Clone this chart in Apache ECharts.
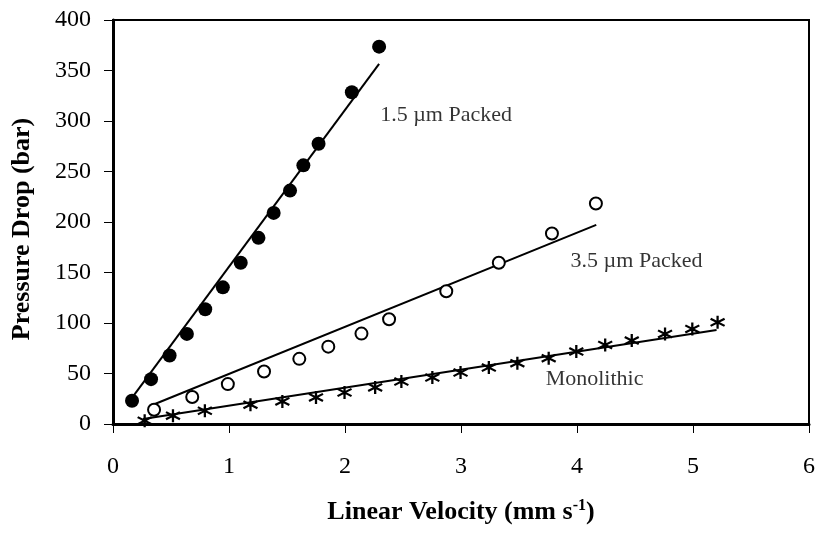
<!DOCTYPE html>
<html><head><meta charset="utf-8">
<script src="https://cdn.jsdelivr.net/npm/echarts@6/dist/echarts.min.js"></script>
<style>html,body{margin:0;padding:0;background:#fff}#c{width:819px;height:535px}</style>
</head><body><div id="c"></div>
<script>
// 1.5 um packed (filled circles)
const packed15 = [[0.164,23.0],[0.328,44.4],[0.488,67.8],[0.637,89.2],[0.795,113.6],[0.947,135.3],[1.101,159.6],[1.254,184.3],[1.385,209.0],[1.526,231.1],[1.641,256.1],[1.772,277.5],[2.059,328.5],[2.294,373.6]];
const fit15 = [[0.173,27.3],[2.294,356.5]];
// 3.5 um packed (open circles)
const packed35 = [[0.354,14.1],[0.683,26.7],[0.990,39.5],[1.302,52.0],[1.606,64.5],[1.856,76.6],[2.142,89.5],[2.380,103.7],[2.873,131.4],[3.326,159.6],[3.784,188.6],[4.163,218.3]];
const fit35 = [[0.345,19.1],[4.166,197.1]];
// Monolithic (asterisks)
const mono = [[0.273,3.3],[0.517,8.2],[0.792,13.1],[1.185,19.1],[1.460,22.3],[1.750,26.3],[1.996,31.2],[2.260,36.2],[2.486,42.1],[2.753,46.0],[2.996,51.0],[3.240,55.9],[3.486,60.2],[3.756,65.2],[3.994,71.7],[4.243,78.3],[4.472,82.6],[4.759,89.2],[4.994,94.1],[5.212,100.7]];
const fitMono = [[0.259,4.9],[5.203,93.1]];
// annotation labels
const labelText = ['1.5 \u00b5m Packed','3.5 \u00b5m Packed','Monolithic'];
const labelPos = [[2.303,305.8],[3.945,161.3],[3.730,44.2]];

const serif = '"Liberation Serif","DejaVu Serif",serif';
const chart = echarts.init(document.getElementById('c'));
const fitLine = d => ({type:'line',data:d,symbol:'none',lineStyle:{color:'#000',width:2},z:3,silent:true});
chart.setOption({
  animation:false,
  backgroundColor:'#fff',
  grid:{left:113,right:10,top:20,bottom:111,show:true,borderColor:'#000',borderWidth:2},
  xAxis:{type:'value',min:0,max:6,interval:1,
    axisLine:{show:true,lineStyle:{color:'#000',width:3}},
    axisTick:{show:true,inside:false,length:9,lineStyle:{color:'#000',width:1}},
    axisLabel:{color:'#000',fontFamily:serif,fontSize:24,margin:31},
    splitLine:{show:false},
    name:'{b|Linear Velocity (mm s}{s|-1}{b|)}',nameLocation:'middle',nameGap:74,
    nameTextStyle:{rich:{b:{fontFamily:serif,fontWeight:'bold',fontSize:26,color:'#000'},
      s:{fontFamily:serif,fontWeight:'bold',fontSize:16,color:'#000',verticalAlign:'top',padding:[0,0,12,0]}}}
  },
  yAxis:{type:'value',min:0,max:400,interval:50,
    axisLine:{show:true,lineStyle:{color:'#000',width:3}},
    axisTick:{show:true,inside:false,length:9,lineStyle:{color:'#000',width:1}},
    axisLabel:{color:'#000',fontFamily:serif,fontSize:24,margin:22},
    splitLine:{show:false},
    name:'Pressure Drop (bar)',nameLocation:'middle',nameGap:78,
    nameTextStyle:{fontFamily:serif,fontWeight:'bold',fontSize:26,color:'#000',padding:[0,14,0,0]}
  },
  series:[
    fitLine(fit15),fitLine(fit35),fitLine(fitMono),
    {type:'scatter',data:packed15,symbol:'circle',symbolSize:14,itemStyle:{color:'#000',opacity:1},z:4},
    {type:'scatter',data:packed35,symbol:'circle',symbolSize:12,itemStyle:{color:'#fff',borderColor:'#000',borderWidth:2,opacity:1},z:4},
    {type:'scatter',data:mono,symbol:'path://M0,-1L0,1M-0.9,-0.55L0.9,0.55M-0.9,0.55L0.9,-0.55',symbolSize:[14,13],
      itemStyle:{color:'none',borderColor:'#000',borderWidth:2.2,opacity:1},z:4},
    {type:'scatter',data:labelPos.map((p,i)=>({value:p,name:labelText[i]})),symbolSize:0,silent:true,
      label:{show:true,position:'right',distance:0,formatter:'{b}',fontFamily:serif,fontSize:22,color:'#000'}}
  ]
});
</script></body></html>
